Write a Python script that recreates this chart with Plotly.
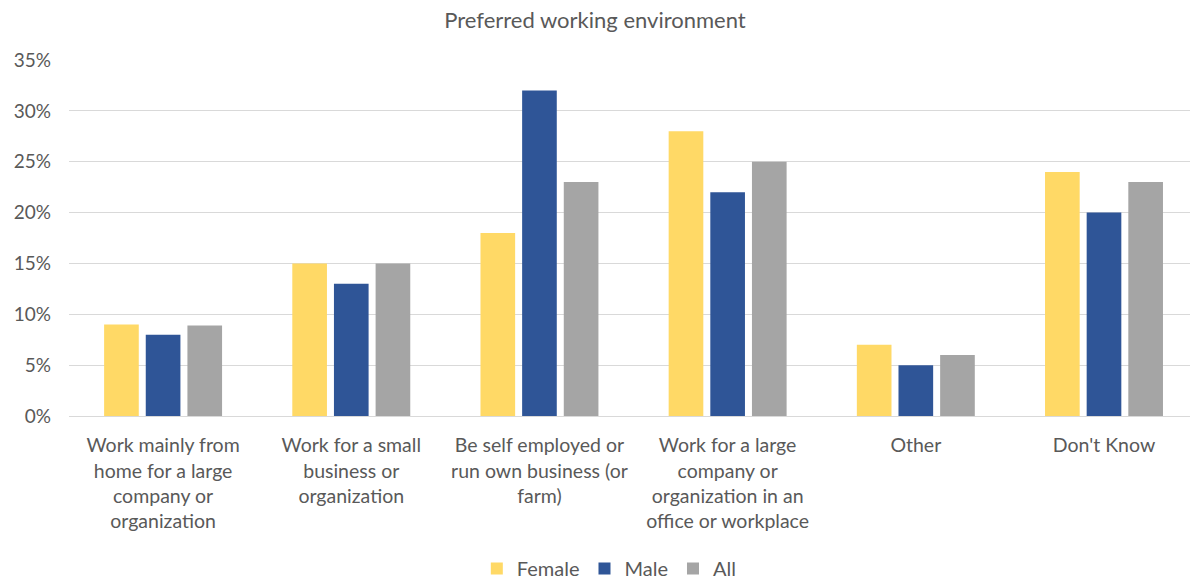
import plotly.graph_objects as go

categories = [
    "Work mainly from<br>home for a large<br>company or<br>organization",
    "Work for a small<br>business or<br>organization",
    "Be self employed or<br>run own business (or<br>farm)",
    "Work for a large<br>company or<br>organization in an<br>office or workplace",
    "Other",
    "Don't Know",
]
female = [0.09, 0.15, 0.18, 0.28, 0.07, 0.24]
male = [0.08, 0.13, 0.32, 0.22, 0.05, 0.20]
all_ = [0.089, 0.15, 0.23, 0.25, 0.06, 0.23]

series = [("Female", female, "#FFD966"), ("Male", male, "#2F5597"), ("All", all_, "#A5A5A5")]

FONT = "Lato, 'Open Sans', sans-serif"
TXT = "#595959"
fig = go.Figure()
for name, vals, col in series:
    fig.add_trace(go.Bar(x=categories, y=vals, name=name, marker=dict(color=col, line=dict(width=0))))

fig.update_layout(
    width=1190, height=580,
    paper_bgcolor="white", plot_bgcolor="white",
    font=dict(family=FONT, size=19.5, color=TXT),
    title=dict(text="Preferred working environment", x=0.5, xanchor="center", y=1 - 20 / 580, yanchor="middle",
               font=dict(size=22, color=TXT, family=FONT)),
    margin=dict(l=69, r=0, t=60, b=164, autoexpand=False),
    barmode="group", bargap=0.336, bargroupgap=0.168,
    legend=dict(orientation="h", x=0.482, xanchor="center", y=-(568 - 415.6) / 355.6, yanchor="middle",
                font=dict(size=20, color=TXT), itemwidth=30, traceorder="normal"),
    xaxis=dict(showgrid=False, tickfont=dict(size=19.5, color=TXT), ticks="",
               range=[-0.5, 5.457], autorange=False,
               showline=True, linecolor="#D9D9D9", linewidth=1, ticklabelstandoff=12),
    yaxis=dict(range=[0, 0.35], dtick=0.05, tickformat=".0%", showgrid=True, gridcolor="#D9D9D9",
               gridwidth=1, zeroline=False, showline=False, tickfont=dict(size=19, color=TXT),
               ticklabelstandoff=17),
)

fig.write_html("out.html", config={"displayModeBar": False},
               post_script="document.body.style.margin='0';document.body.style.overflow='hidden';")
